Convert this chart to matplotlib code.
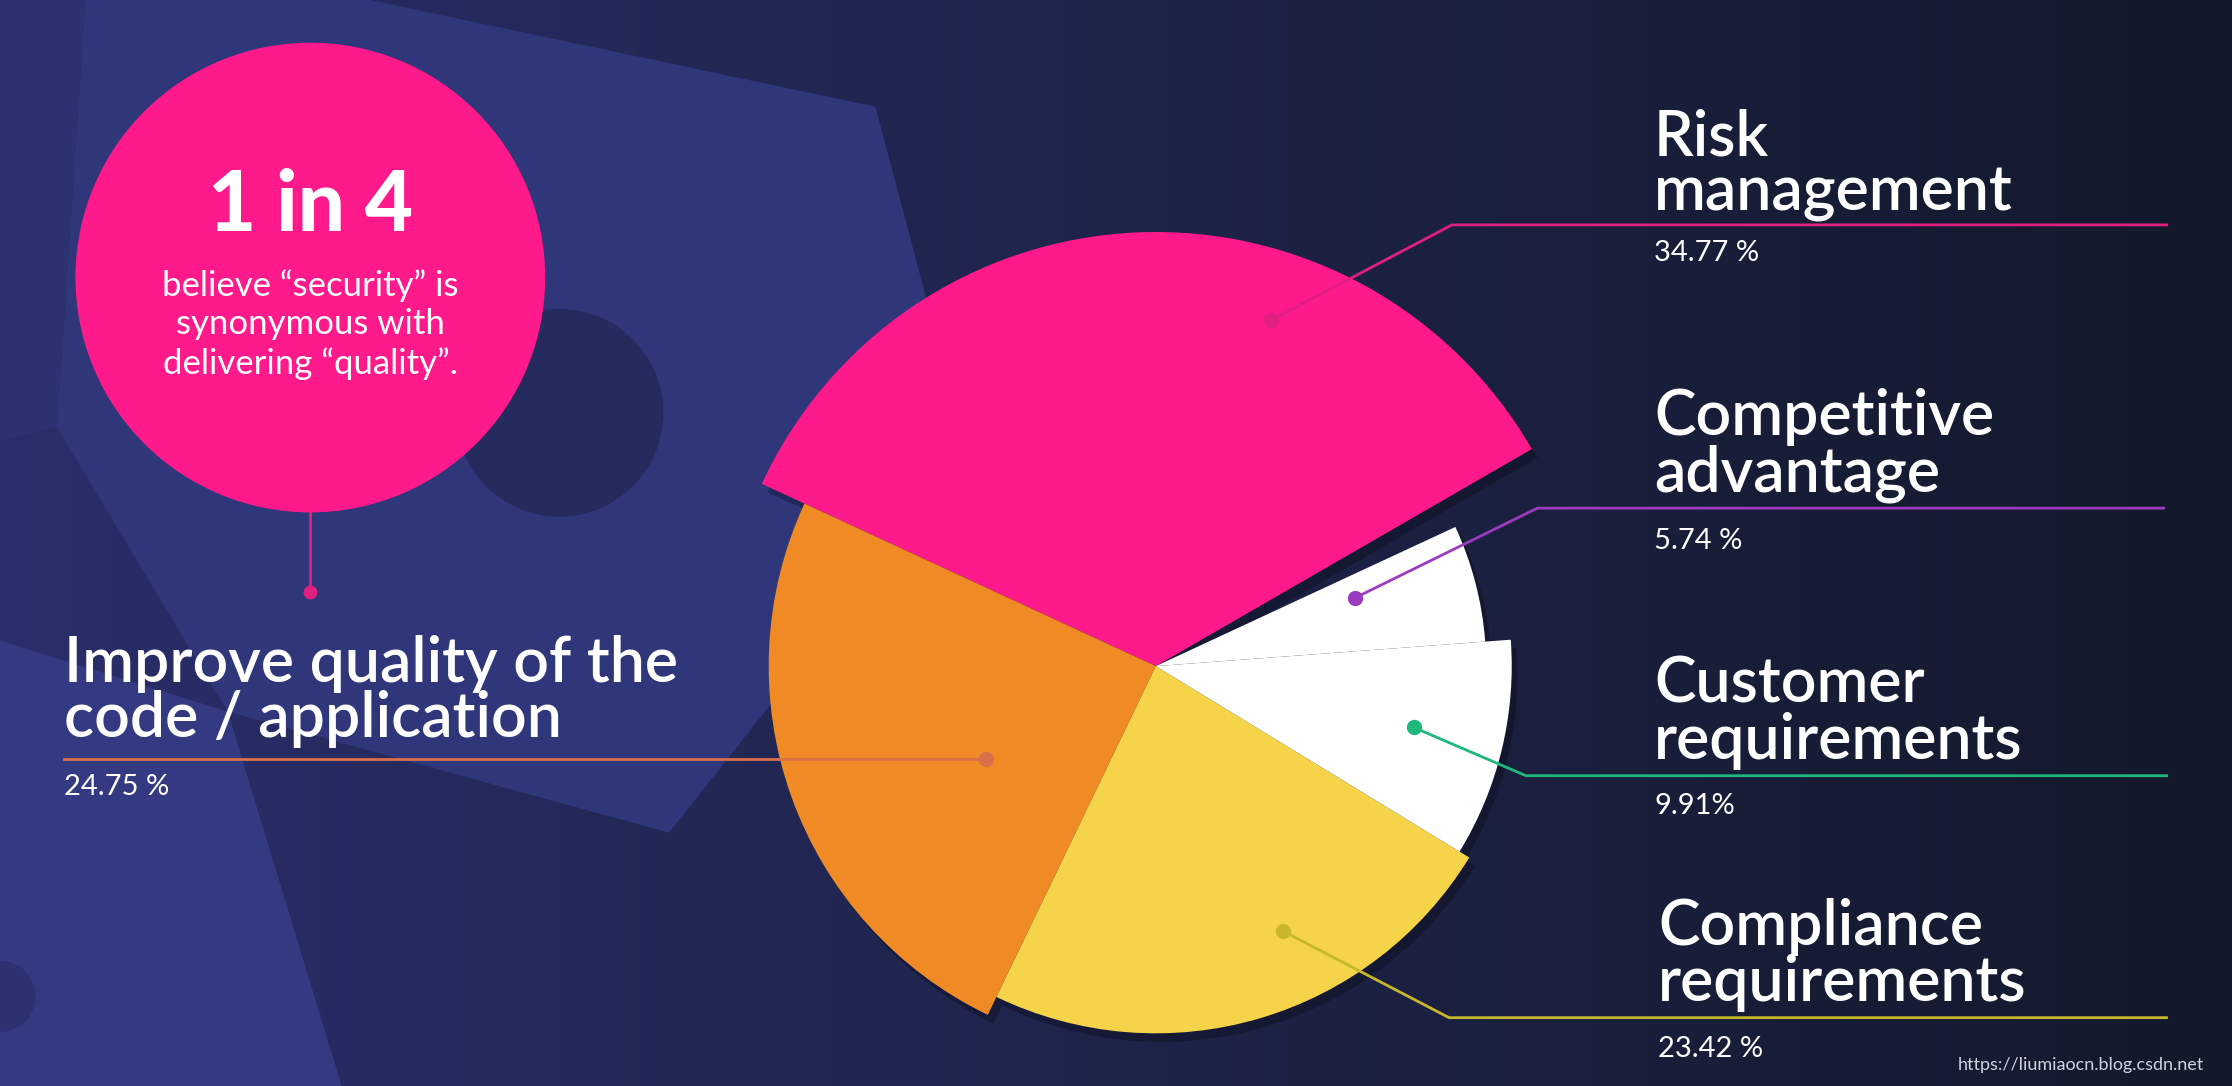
import numpy as np
import matplotlib.pyplot as plt
from matplotlib.patches import Wedge, Circle, Polygon

plt.rcParams['font.family'] = ['Lato', 'DejaVu Sans']

# data
labels = ['Risk\nmanagement', 'Improve quality of the\ncode / application',
          'Compliance\nrequirements', 'Customer\nrequirements', 'Competitive\nadvantage']
shares = [34.77, 24.75, 23.42, 9.91, 5.74]
pct_text = ['34.77 %', '24.75 %', '23.42 %', '9.91%', '5.74 %']
colors = ['#ff1a8c', '#f08a24', '#f6d44a', '#ffffff', '#ffffff']
radii = [305, 272, 258, 250, 232]
line_colors = ['#e0207f', '#d9704a', '#c8b72a', '#1db87a', '#9b3bbf']

W, H = 1568, 763
fig = plt.figure(figsize=(22.32, 10.86), dpi=100)
ax = fig.add_axes([0, 0, 1, 1])
ax.set_xlim(0, W)
ax.set_ylim(0, H)
ax.axis('off')

def Y(y):
    return H - y

# background gradient
grad = np.linspace(0, 1, 256)
c0 = np.array([0x2a, 0x2e, 0x6a]) / 255
c1 = np.array([0x13, 0x19, 0x2a]) / 255
img = c0[None, :] * (1 - grad[:, None]) + c1[None, :] * grad[:, None]
ax.imshow(img[None, :, :], extent=[0, W, 0, H], aspect='auto', zorder=0)

# decorative shapes
ax.add_patch(Polygon([(60, Y(0)), (260, Y(0)), (615, Y(75)), (680, Y(320)),
                      (470, Y(585)), (160, Y(500)), (40, Y(300))],
                     closed=True, fc='#30367a', ec='none', zorder=1))
ax.add_patch(Polygon([(0, Y(450)), (160, Y(500)), (240, Y(763)), (0, Y(763))],
                     closed=True, fc='#343a82', ec='none', zorder=1))
ax.add_patch(Polygon([(0, Y(0)), (60, Y(0)), (40, Y(300)), (0, Y(310))],
                     closed=True, fc='#2c3170', ec='none', zorder=1))
ax.add_patch(Circle((393, Y(290)), 73, fc='#262b5e', ec='none', zorder=1))
ax.add_patch(Circle((0, Y(700)), 25, fc='#2c3170', ec='none', zorder=1))

# pie
cx, cy = 812, Y(468)
start = 30.0
mids = []
for v, c, r in zip(shares, colors, radii):
    span = v / 100 * 360
    ax.add_patch(Wedge((cx + 4, cy - 6), r, start, start + span, fc='#000000',
                       alpha=0.25, ec='none', zorder=2))
    ax.add_patch(Wedge((cx, cy), r, start, start + span, fc=c, ec='none', zorder=3))
    mids.append(start + span / 2)
    start += span

# leader lines: dot, elbow, end
dots = [(893, 225), (693, 533), (901, 654), (993, 511), (952, 420)]
elbows = [(1020, 158), (693, 533), (1018, 715), (1072, 545), (1080, 357)]
ends = [1522, 45, 1522, 1522, 1520]
for (dx, dy), (ex, ey), xe, lc in zip(dots, elbows, ends, line_colors):
    ax.plot([dx, ex, xe], [Y(dy), Y(ey), Y(ey)], color=lc, lw=2, zorder=4)
    ax.plot(dx, Y(dy), 'o', color=lc, ms=10, zorder=5)

# labels
label_pos = [(1162, 148), (45, 518), (1165, 703), (1162, 533), (1162, 345)]
pct_pos = [(1162, 178), (45, 553), (1165, 737), (1162, 566), (1162, 380)]
for lab, p, (lx, ly), (px, py) in zip(labels, pct_text, label_pos, pct_pos):
    ax.text(lx, Y(ly), lab, color='white', fontsize=45, fontweight='semibold',
            ha='left', va='baseline', linespacing=0.95, zorder=6)
    ax.text(px, Y(py), p, color='white', fontsize=21, ha='left', va='center', zorder=6)

# callout circle
ax.add_patch(Circle((218, Y(195)), 165, fc='#ff1a8c', ec='none', zorder=3))
ax.plot([218, 218], [Y(360), Y(416)], color='#e0207f', lw=2, zorder=4)
ax.plot(218, Y(416), 'o', color='#e0207f', ms=9, zorder=5)
ax.text(218, Y(145), '1 in 4', color='white', fontsize=60, fontweight='black',
        ha='center', va='center', zorder=6)
ax.text(218, Y(228), 'believe \u201csecurity\u201d is\nsynonymous with\ndelivering \u201cquality\u201d.',
        color='white', fontsize=25, ha='center', va='center', linespacing=1.25, zorder=6)

ax.text(1548, Y(748), 'https://liumiaocn.blog.csdn.net', color='#cfd3e0', fontsize=13,
        ha='right', va='center', zorder=6)

fig.savefig('out.png', dpi=100)
